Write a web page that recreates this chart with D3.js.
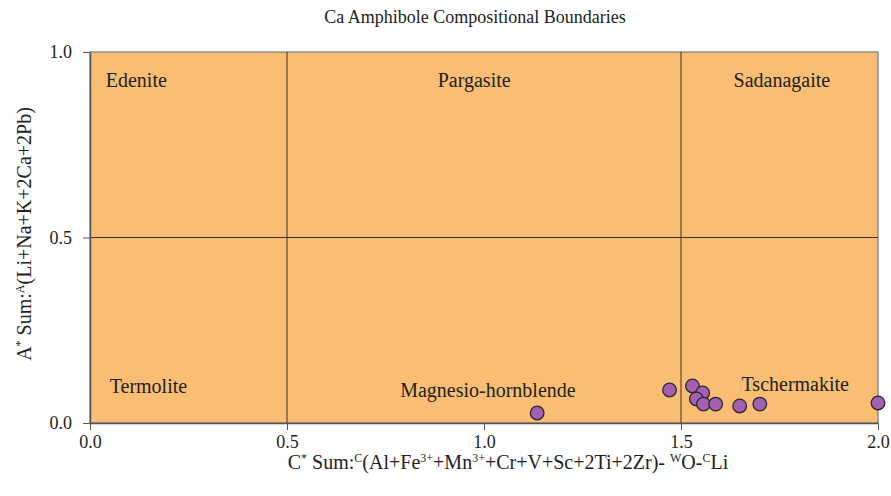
<!DOCTYPE html>
<html>
<head>
<meta charset="utf-8">
<script src="https://cdn.jsdelivr.net/npm/d3@7"></script>
<style>
  body { margin: 0; background: #fff; }
  text { font-family: "Liberation Serif", "Times New Roman", serif; fill: #222; }
</style>
</head>
<body>
<div id="chart"></div>
<script>
/* DATA */
const cSum = [1.471, 1.135, 1.529, 1.555, 1.539, 1.557, 1.588, 1.649, 1.700, 2.0];
const aSum = [0.089, 0.027, 0.100, 0.081, 0.065, 0.051, 0.051, 0.046, 0.051, 0.054];
const xTicks = [0.0, 0.5, 1.0, 1.5, 2.0];
const yTicks = [0.0, 0.5, 1.0];
const boundaryX = [0.5, 1.5];
const boundaryY = [0.5];
const regionNames = ["Edenite", "Pargasite", "Sadanagaite", "Termolite", "Magnesio-hornblende", "Tschermakite"];
const regionX = [0.04, 0.975, 1.756, 0.05, 1.01, 1.79];
const regionY = [0.906, 0.906, 0.906, 0.081, 0.07, 0.086];
const regionAnchor = ["start", "middle", "middle", "start", "middle", "middle"];

const width = 891, height = 496,
  margin = { top: 52, right: 13, bottom: 73, left: 90 };

const svg = d3.select("#chart").append("svg")
  .attr("width", width)
  .attr("height", height);

const xScale = d3.scaleLinear().domain([0, 2]).range([margin.left, width - margin.right]);
const yScale = d3.scaleLinear().domain([0, 1]).range([height - margin.bottom, margin.top]);

// background of the field
svg.append("rect")
  .attr("x", xScale(0))
  .attr("y", yScale(1))
  .attr("width", xScale(2) - xScale(0))
  .attr("height", yScale(0) - yScale(1))
  .attr("fill", "#f9be73")
  .attr("stroke", "#777")
  .attr("stroke-width", 1.2);

// boundary lines
svg.selectAll(".vline")
  .data(boundaryX)
  .join("line")
  .attr("x1", d => xScale(d)).attr("x2", d => xScale(d))
  .attr("y1", yScale(0)).attr("y2", yScale(1))
  .attr("stroke", "#333").attr("stroke-width", 1);

svg.selectAll(".hline")
  .data(boundaryY)
  .join("line")
  .attr("x1", xScale(0)).attr("x2", xScale(2))
  .attr("y1", d => yScale(d)).attr("y2", d => yScale(d))
  .attr("stroke", "#333").attr("stroke-width", 1);

// axes
const xAxis = d3.axisBottom(xScale).tickValues(xTicks).tickFormat(d3.format(".1f"))
  .tickSizeInner(7).tickSizeOuter(0).tickPadding(5);
const yAxis = d3.axisLeft(yScale).tickValues(yTicks).tickFormat(d3.format(".1f"))
  .tickSizeInner(7).tickSizeOuter(0).tickPadding(11);

svg.append("g")
  .attr("transform", `translate(0, ${yScale(0)})`)
  .call(xAxis)
  .call(g => g.select(".domain").attr("stroke", "#555").attr("stroke-width", 1.5))
  .call(g => g.selectAll(".tick line").attr("stroke", "#555"))
  .call(g => g.selectAll(".tick text").style("font-size", "18px").attr("fill", "#333")
    .style("font-family", "Liberation Serif, serif"));

svg.append("g")
  .attr("transform", `translate(${xScale(0)}, 0)`)
  .call(yAxis)
  .call(g => g.select(".domain").attr("stroke", "#555").attr("stroke-width", 1.5))
  .call(g => g.selectAll(".tick line").attr("stroke", "#555"))
  .call(g => g.selectAll(".tick text").style("font-size", "18px").attr("fill", "#333")
    .style("font-family", "Liberation Serif, serif"));

// region labels
svg.selectAll(".region")
  .data(regionNames)
  .join("text")
  .attr("class", "region")
  .attr("x", (d, i) => xScale(regionX[i]))
  .attr("y", (d, i) => yScale(regionY[i]))
  .attr("text-anchor", (d, i) => regionAnchor[i])
  .style("font-size", "20px")
  .text(d => d);

// points
svg.selectAll("circle")
  .data(cSum.map((c, i) => ({ c: c, a: aSum[i] })))
  .join("circle")
  .attr("cx", d => xScale(d.c))
  .attr("cy", d => yScale(d.a))
  .attr("r", 6.8)
  .attr("fill", "#a45fb0")
  .attr("stroke", "#2a2a2a")
  .attr("stroke-width", 1.3);

// title
svg.append("text")
  .attr("x", 475).attr("y", 23)
  .attr("text-anchor", "middle")
  .style("font-size", "18px")
  .text("Ca Amphibole Compositional Boundaries");

// x axis title with superscripts
const sup = (t, s) => t.append("tspan").attr("baseline-shift", "super").style("font-size", "12px").text(s);
const reg = (t, s) => t.append("tspan").text(s);

const xt = svg.append("text")
  .attr("x", 508).attr("y", 469)
  .attr("text-anchor", "middle")
  .style("font-size", "20px");
reg(xt, "C"); sup(xt, "*"); reg(xt, " Sum:"); sup(xt, "C");
reg(xt, "(Al+Fe"); sup(xt, "3+"); reg(xt, "+Mn"); sup(xt, "3+");
reg(xt, "+Cr+V+Sc+2Ti+2Zr)- "); sup(xt, "W"); reg(xt, "O-"); sup(xt, "C"); reg(xt, "Li");

const yt = svg.append("text")
  .attr("transform", "translate(31, 234) rotate(-90)")
  .attr("text-anchor", "middle")
  .style("font-size", "20px");
reg(yt, "A"); sup(yt, "*"); reg(yt, " Sum:"); sup(yt, "A");
reg(yt, "(Li+Na+K+2Ca+2Pb)");
</script>
</body>
</html>
